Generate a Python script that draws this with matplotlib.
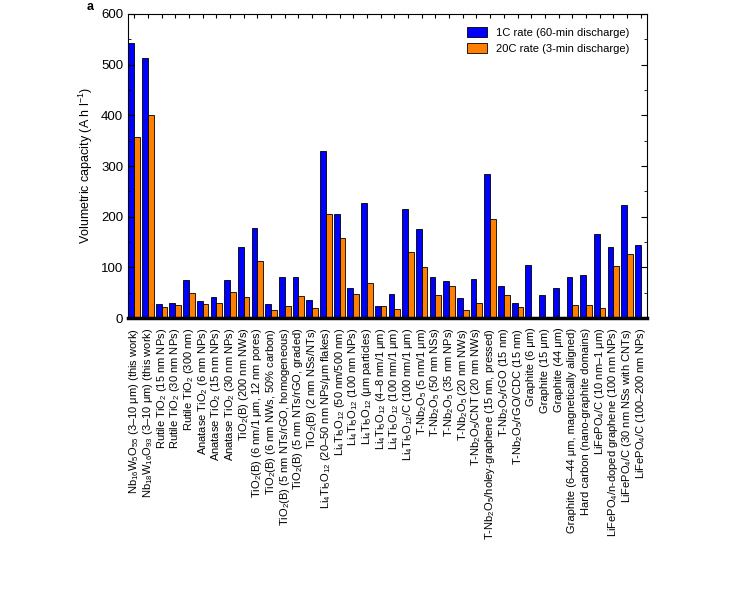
import matplotlib
matplotlib.use("Agg")
import matplotlib.pyplot as plt
import numpy as np
from matplotlib.ticker import MultipleLocator

plt.rcParams["font.family"] = ["Liberation Sans", "DejaVu Sans"]
plt.rcParams["mathtext.fontset"] = "custom"
plt.rcParams["mathtext.rm"] = "Liberation Sans"
plt.rcParams["mathtext.it"] = "Liberation Sans:italic"
plt.rcParams["mathtext.bf"] = "Liberation Sans:bold"

materials = [
    r"Nb$_{16}$W$_5$O$_{55}$ (3–10 μm) (this work)",
    r"Nb$_{18}$W$_{16}$O$_{93}$ (3–10 μm) (this work)",
    r"Rutile TiO$_2$ (15 nm NPs)",
    r"Rutile TiO$_2$ (30 nm NPs)",
    r"Rutile TiO$_2$ (300 nm)",
    r"Anatase TiO$_2$ (6 nm NPs)",
    r"Anatase TiO$_2$ (15 nm NPs)",
    r"Anatase TiO$_2$ (30 nm NPs)",
    r"TiO$_2$(B) (200 nm NWs)",
    r"TiO$_2$(B) (6 nm/1 μm, 12 nm pores)",
    r"TiO$_2$(B) (6 nm NWs, 50% carbon)",
    r"TiO$_2$(B) (5 nm NTs/rGO, homogeneous)",
    r"TiO$_2$(B) (5 nm NTs/rGO, graded)",
    r"TiO$_2$(B) (2 nm NSs/NTs)",
    r"Li$_4$Ti$_5$O$_{12}$ (20–50 nm NPs/μm flakes)",
    r"Li$_4$Ti$_5$O$_{12}$ (50 nm/500 nm)",
    r"Li$_4$Ti$_5$O$_{12}$ (100 nm NPs)",
    r"Li$_4$Ti$_5$O$_{12}$ (μm particles)",
    r"Li$_4$Ti$_5$O$_{12}$ (4–8 nm/1 μm)",
    r"Li$_4$Ti$_5$O$_{12}$ (100 nm/1 μm)",
    r"Li$_4$Ti$_5$O$_{12}$/C (100 nm/1 μm)",
    r"T-Nb$_2$O$_5$ (5 nm/1 μm)",
    r"T-Nb$_2$O$_5$ (50 nm NSs)",
    r"T-Nb$_2$O$_5$ (35 nm NPs)",
    r"T-Nb$_2$O$_5$ (20 nm NWs)",
    r"T-Nb$_2$O$_5$/CNT (20 nm NWs)",
    r"T-Nb$_2$O$_5$/holey-graphene (15 nm, pressed)",
    r"T-Nb$_2$O$_5$/rGO (15 nm)",
    r"T-Nb$_2$O$_5$/rGO/CDC (15 nm)",
    r"Graphite (6 μm)",
    r"Graphite (15 μm)",
    r"Graphite (44 μm)",
    r"Graphite (6–44 μm, magnetically aligned)",
    r"Hard carbon (nano-graphite domains)",
    r"LiFePO$_4$/C (10 nm–1 μm)",
    r"LiFePO$_4$/n-doped graphene (100 nm NPs)",
    r"LiFePO$_4$/C (30 nm NSs with CNTs)",
    r"LiFePO$_4$/C (100–200 nm NPs)",
]

# volumetric capacity, A h l^-1
rate_1c = [542, 513, 28, 30, 75, 34, 42, 75, 141, 177, 27, 80, 81, 35, 330, 205,
           60, 227, 24, 48, 216, 176, 81, 73, 39, 78, 284, 64, 30, 105, 46, 59,
           81, 85, 166, 140, 224, 145]
rate_20c = [358, 400, 22, 26, 50, 28, 30, 51, 41, 113, 15, 24, 43, 19, 205, 157,
            48, 69, 24, 18, 131, 100, 46, 64, 16, 30, 195, 46, 21, 0, 0, 0,
            26, 26, 20, 103, 126, 0]

fig = plt.figure(figsize=(7.34, 5.95), dpi=100)
ax = fig.add_axes([0.1744, 0.4655, 0.707, 0.511])

x = np.arange(len(materials))
w = 0.42
ax.bar(x - w / 2, rate_1c, w, color="#0000ff", edgecolor="black", linewidth=0.6,
       label="1C rate (60-min discharge)")
ax.bar(x + w / 2, rate_20c, w, color="#ff8000", edgecolor="black", linewidth=0.6,
       label="20C rate (3-min discharge)")

ax.set_xlim(-0.45, len(materials) - 0.55)
ax.set_ylim(0, 600)
ax.yaxis.set_major_locator(MultipleLocator(100))
ax.yaxis.set_minor_locator(MultipleLocator(50))
ax.tick_params(axis="y", which="both", direction="in", left=True, right=True, labelsize=9.5)
ax.tick_params(axis="y", which="major", length=4)
ax.tick_params(axis="y", which="minor", length=2)
ax.set_xticks(x)
ax.set_xticklabels(materials, rotation=90, fontsize=8)
ax.tick_params(axis="x", direction="in", top=True, bottom=False, length=3, pad=7)
for side in ("left", "right", "top"):
    ax.spines[side].set_linewidth(0.8)
ax.spines["bottom"].set_linewidth(2.5)

ax.set_ylabel(r"Volumetric capacity (A h l$^{-1}$)", fontsize=9)
ax.legend(loc="upper right", frameon=False, fontsize=8, handlelength=1.8,
          handleheight=1.0, bbox_to_anchor=(0.985, 0.99))

fig.text(0.118, 0.999, "a", fontsize=9, fontweight="bold", va="top")

fig.savefig("out.png", dpi=100)
